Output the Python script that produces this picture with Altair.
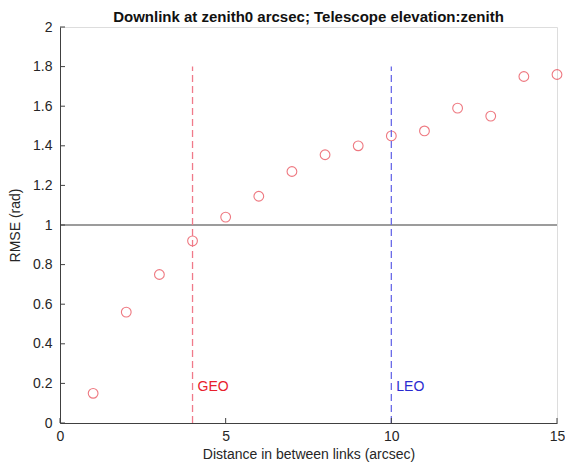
import altair as alt
import pandas as pd

distance = list(range(1, 16))
rmse = [0.15, 0.56, 0.75, 0.92, 1.04, 1.145, 1.27, 1.355, 1.40, 1.45, 1.475, 1.59, 1.55, 1.75, 1.76]

x_ticks = [0, 5, 10, 15]
y_ticks = [0, 0.2, 0.4, 0.6, 0.8, 1.0, 1.2, 1.4, 1.6, 1.8, 2.0]

vlines = pd.DataFrame({"x": [4, 10], "y0": [0, 0], "y1": [1.8, 1.8], "name": ["GEO", "LEO"],
                       "lab_x": [4.15, 10.15], "lab_y": [0.18, 0.18]})

W, H = 497, 396
font = "Liberation Sans"
axis_color = "#404040"

df = pd.DataFrame({"d": distance, "r": rmse})

xs = alt.Scale(domain=[0, 15], nice=False, zero=False)
ys = alt.Scale(domain=[0, 2], nice=False, zero=False)

x_axis = alt.Axis(values=x_ticks, ticks=False, grid=False, labelFont=font, labelFontSize=14,
                  labelColor="#262626", labelPadding=6, titleFont=font, titleFontSize=14,
                  titleColor="#262626", titleFontWeight="normal", titlePadding=4,
                  domainColor=axis_color, labelFlush=False, labelOverlap=False)
y_axis = alt.Axis(values=y_ticks, ticks=False, grid=False, labelFont=font, labelFontSize=14,
                  labelColor="#262626", labelPadding=8, titleFont=font, titleFontSize=14,
                  titleColor="#262626", titleFontWeight="normal", titlePadding=10,
                  domainColor=axis_color, labelFlush=False, labelOverlap=False, format="~g")

XT = "Distance in between links (arcsec)"
YT = "RMSE (rad)"

points = alt.Chart(df).mark_point(shape="circle", filled=False, color="#e8404c", size=95,
                                  strokeWidth=1.1).encode(
    x=alt.X("d:Q", scale=xs, axis=x_axis, title=XT),
    y=alt.Y("r:Q", scale=ys, axis=y_axis, title=YT),
)

hline = alt.Chart(pd.DataFrame({"y": [1.0], "x0": [0], "x1": [15]})).mark_rule(
    color="#3a3a3a", strokeWidth=1.1).encode(
    x=alt.X("x0:Q", scale=xs, axis=x_axis, title=XT), x2="x1:Q",
    y=alt.Y("y:Q", scale=ys, axis=y_axis, title=YT))

vl = alt.Chart(vlines).mark_rule(strokeDash=[7, 4], strokeWidth=1.3).encode(
    x=alt.X("x:Q", scale=xs, axis=x_axis, title=XT),
    y=alt.Y("y0:Q", scale=ys, axis=y_axis, title=YT), y2="y1:Q",
    color=alt.Color("name:N", scale=alt.Scale(domain=["GEO", "LEO"], range=["#f07a8a", "#6a6ae8"]),
                    legend=None))

labels = alt.Chart(vlines).mark_text(align="left", baseline="middle", font=font, fontSize=14).encode(
    x=alt.X("lab_x:Q", scale=xs, axis=x_axis, title=XT),
    y=alt.Y("lab_y:Q", scale=ys, axis=y_axis, title=YT), text="name:N",
    color=alt.Color("name:N", scale=alt.Scale(domain=["GEO", "LEO"], range=["#e8202c", "#2a2ad0"]),
                    legend=None))

xt = alt.Chart(pd.DataFrame({"x": x_ticks})).mark_rule(color=axis_color, strokeWidth=1).encode(
    x=alt.X("x:Q", scale=xs, axis=x_axis, title=XT), y=alt.value(H), y2=alt.value(H - 5))
yt = alt.Chart(pd.DataFrame({"y": y_ticks})).mark_rule(color=axis_color, strokeWidth=1).encode(
    y=alt.Y("y:Q", scale=ys, axis=y_axis, title=YT), x=alt.value(0), x2=alt.value(5))

chart = alt.layer(points, hline, vl, labels, xt, yt).resolve_scale(color="independent").properties(
    width=W, height=H,
    title=alt.Title("Downlink at zenith0 arcsec; Telescope elevation:zenith", font=font, fontSize=15,
                    fontWeight="bold", color="#111111", offset=0, dy=5, anchor="middle"),
    autosize=alt.AutoSizeParams(type="none"),
    padding={"left": 52, "top": 19, "right": 8, "bottom": 40},
).configure_view(stroke=None).configure(background="white").configure_axis(labelOverlap=False)

chart.save("out.html", embed_options={"renderer": "svg", "actions": False})
